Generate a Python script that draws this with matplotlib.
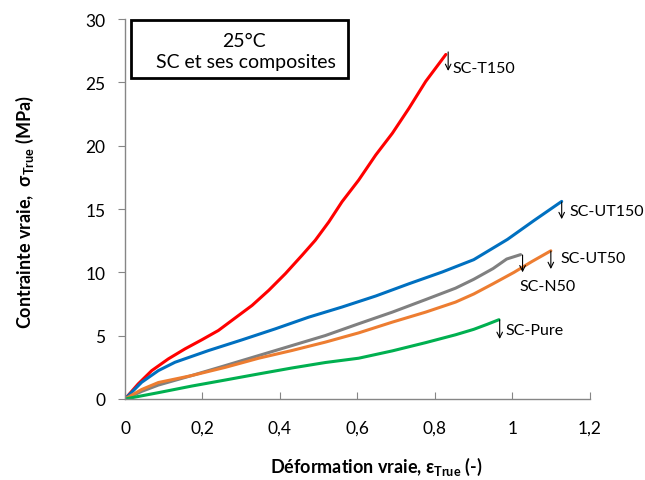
import matplotlib
matplotlib.use("Agg")
import matplotlib.pyplot as plt
from matplotlib.patches import Rectangle

plt.rcParams['font.family'] = ['Lato', 'DejaVu Sans']
plt.rcParams['mathtext.fontset'] = 'custom'
plt.rcParams['mathtext.rm'] = 'Lato'
plt.rcParams['mathtext.bf'] = 'Lato:bold'

# strain / stress
t150_x = [0, 0.034, 0.069, 0.112, 0.155, 0.198, 0.241, 0.284, 0.328, 0.371, 0.414,
          0.457, 0.491, 0.526, 0.560, 0.603, 0.647, 0.690, 0.733, 0.776, 0.828]
t150_y = [0, 1.19, 2.24, 3.17, 3.96, 4.67, 5.41, 6.39, 7.39, 8.58, 9.9,
          11.35, 12.53, 13.98, 15.57, 17.28, 19.26, 20.98, 22.96, 25.07, 27.2]

ut150_x = [0, 0.043, 0.086, 0.129, 0.216, 0.302, 0.388, 0.474, 0.560, 0.647, 0.733,
           0.819, 0.90, 0.987, 1.056, 1.127]
ut150_y = [0, 1.32, 2.24, 2.9, 3.83, 4.67, 5.54, 6.46, 7.26, 8.13, 9.1,
           10.03, 11.0, 12.6, 14.1, 15.6]

n50_x = [0, 0.043, 0.086, 0.172, 0.259, 0.345, 0.431, 0.517, 0.603, 0.690, 0.776,
         0.853, 0.90, 0.95, 0.985, 1.021]
n50_y = [0, 0.6, 1.1, 1.85, 2.64, 3.43, 4.22, 5.01, 5.94, 6.86, 7.85,
         8.75, 9.45, 10.3, 11.05, 11.4]

ut50_x = [0, 0.043, 0.086, 0.172, 0.259, 0.345, 0.431, 0.517, 0.603, 0.690, 0.776,
          0.853, 0.90, 0.95, 1.004, 1.05, 1.099]
ut50_y = [0, 0.75, 1.3, 1.85, 2.5, 3.22, 3.83, 4.49, 5.22, 6.07, 6.86,
          7.65, 8.29, 9.1, 10.0, 10.85, 11.7]

pure_x = [0, 0.086, 0.172, 0.259, 0.345, 0.431, 0.517, 0.603, 0.690, 0.776, 0.853,
          0.90, 0.935, 0.965]
pure_y = [0, 0.5, 1.02, 1.5, 1.98, 2.45, 2.88, 3.22, 3.8, 4.45, 5.07,
          5.5, 5.9, 6.26]

names = ['SC-T150', 'SC-UT150', 'SC-N50', 'SC-UT50', 'SC-Pure']
colors = ['#FF0000', '#0070C0', '#808080', '#ED7D31', '#00B050']
# rupture arrows: x, y top, y bottom ; label position
arrow_x = [0.834, 1.127, 1.026, 1.099, 0.967]
arrow_top = [27.4, 15.55, 11.37, 11.68, 6.24]
arrow_bot = [25.9, 14.2, 10.0, 10.26, 4.74]
label_x = [0.846, 1.147, 1.017, 1.125, 0.981]
label_y = [26.1, 14.86, 8.9, 11.1, 5.47]

fig = plt.figure(figsize=(6.45, 4.81), dpi=100)
ax = fig.add_axes([0.1938, 0.1684, 0.7209, 0.79])

curves = [(t150_x, t150_y), (ut150_x, ut150_y), (n50_x, n50_y),
          (ut50_x, ut50_y), (pure_x, pure_y)]
for (xs, ys), c in zip(curves, colors):
    ax.plot(xs, ys, color=c, lw=2.2, solid_capstyle='round', solid_joinstyle='round')

for i, name in enumerate(names):
    ax.annotate('', xy=(arrow_x[i], arrow_bot[i]), xytext=(arrow_x[i], arrow_top[i]),
                arrowprops=dict(arrowstyle='->', color='black', lw=0.8,
                                shrinkA=0, shrinkB=0, mutation_scale=10))
    ax.text(label_x[i], label_y[i], name, fontsize=11.5, ha='left', va='center',
            clip_on=False)

ax.set_xlim(0, 1.2)
ax.set_ylim(0, 30)
ax.set_xticks([0, 0.2, 0.4, 0.6, 0.8, 1.0, 1.2])
ax.set_xticklabels(['0', '0,2', '0,4', '0,6', '0,8', '1', '1,2'])
ax.set_yticks(range(0, 31, 5))
for s in ['top', 'right']:
    ax.spines[s].set_visible(False)
for s in ['left', 'bottom']:
    ax.spines[s].set_color('#868686')
    ax.spines[s].set_linewidth(1.0)
ax.tick_params(axis='x', direction='in', length=5, color='#868686', labelsize=12.5, pad=15)
ax.tick_params(axis='y', direction='out', length=5, color='#868686', labelsize=12.5, pad=9)

fig.text(376 / 645, 1 - 467 / 481, r'Déformation vraie, ε$_{\mathbf{True}}$ (-)',
         fontsize=13, fontweight='bold', ha='center', va='center')
fig.text(25 / 645, 1 - 212 / 481, r'Contrainte vraie,  σ$_{\mathbf{True}}$ (MPa)',
         fontsize=13, fontweight='bold', ha='center', va='center', rotation=90)

# title box
ax.add_patch(Rectangle((0.0129, 0.845), 0.4667, 0.152, transform=ax.transAxes,
                       facecolor='white', edgecolor='black', lw=2, clip_on=False, zorder=5))
ax.text(0.255, 0.943, '25°C', transform=ax.transAxes, fontsize=14,
        ha='center', va='center', zorder=6)
ax.text(0.26, 0.887, 'SC et ses composites', transform=ax.transAxes, fontsize=14,
        ha='center', va='center', zorder=6)

fig.savefig('out.png', dpi=100)
